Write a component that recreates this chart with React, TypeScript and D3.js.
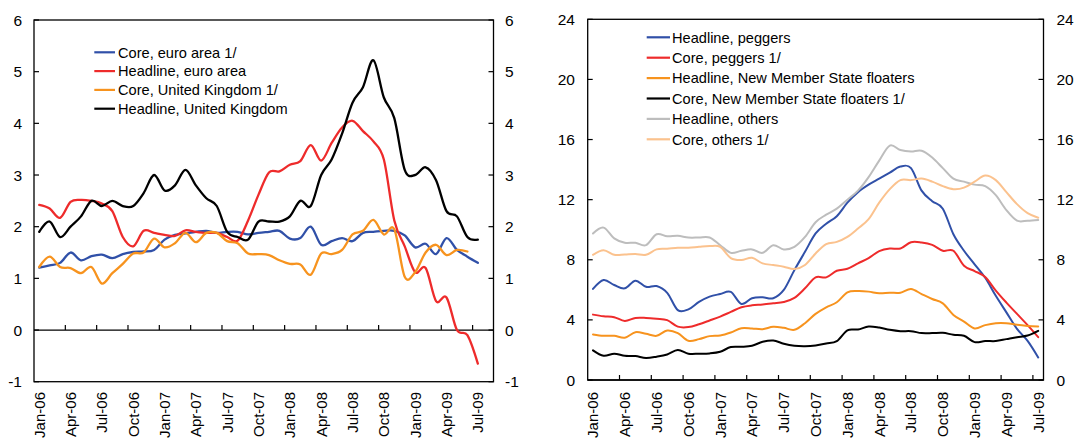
import React from "react";
import * as d3 from "d3";

// ---------- DATA ----------
const months = [
  "Jan-06","Feb-06","Mar-06","Apr-06","May-06","Jun-06","Jul-06","Aug-06","Sep-06","Oct-06","Nov-06","Dec-06",
  "Jan-07","Feb-07","Mar-07","Apr-07","May-07","Jun-07","Jul-07","Aug-07","Sep-07","Oct-07","Nov-07","Dec-07",
  "Jan-08","Feb-08","Mar-08","Apr-08","May-08","Jun-08","Jul-08","Aug-08","Sep-08","Oct-08","Nov-08","Dec-08",
  "Jan-09","Feb-09","Mar-09","Apr-09","May-09","Jun-09","Jul-09"
];
// left panel has one extra (empty) category at the end
const leftCategories = [...months, "Aug-09"];

const coreEuroArea = [1.21,1.25,1.30,1.50,1.35,1.43,1.46,1.39,1.47,1.51,1.52,1.55,1.75,1.84,1.87,1.90,1.92,1.88,1.90,1.90,1.85,1.88,1.90,1.92,1.77,1.78,2.00,1.65,1.72,1.78,1.72,1.88,1.90,1.92,1.92,1.83,1.60,1.67,1.47,1.78,1.55,1.42,1.30];
const headlineEuroArea = [2.42,2.35,2.17,2.48,2.52,2.50,2.45,2.30,1.80,1.62,1.92,1.88,1.84,1.82,1.93,1.90,1.88,1.88,1.80,1.73,2.12,2.62,3.05,3.07,3.20,3.27,3.58,3.28,3.62,3.92,4.05,3.85,3.65,3.30,2.12,1.62,1.12,1.20,0.56,0.63,0.00,-0.10,-0.65];
const coreUK = [1.22,1.42,1.22,1.20,1.10,1.22,0.90,1.10,1.28,1.48,1.50,1.77,1.60,1.68,1.88,1.70,1.88,1.88,1.72,1.68,1.48,1.47,1.45,1.35,1.28,1.27,1.07,1.48,1.47,1.55,1.85,1.92,2.13,1.85,1.95,1.03,1.12,1.50,1.65,1.45,1.55,1.52];
const headlineUK = [1.9,2.1,1.8,2.0,2.2,2.5,2.4,2.5,2.4,2.4,2.65,3.0,2.7,2.8,3.1,2.8,2.55,2.4,1.9,1.8,1.75,2.1,2.1,2.1,2.2,2.5,2.4,3.0,3.3,3.8,4.4,4.7,5.22,4.5,4.1,3.1,3.0,3.15,2.9,2.3,2.2,1.8,1.75];

const headlinePeggers = [6.06,6.65,6.32,6.10,6.61,6.20,6.25,5.80,4.65,4.70,5.20,5.55,5.72,5.86,5.06,5.44,5.50,5.44,5.99,7.31,8.53,9.75,10.40,10.90,11.80,12.50,13.00,13.40,13.80,14.20,14.10,12.60,11.90,11.40,9.70,8.60,7.70,6.80,5.60,4.50,3.40,2.60,1.50];
const corePeggers = [4.35,4.24,4.18,3.93,4.13,4.13,4.07,3.98,3.55,3.52,3.71,3.96,4.22,4.53,4.84,4.97,5.02,5.10,5.19,5.46,6.10,6.83,6.83,7.27,7.40,7.76,8.11,8.57,8.75,8.75,9.17,9.15,8.99,8.60,8.60,7.60,7.25,6.85,5.95,5.15,4.40,3.65,2.85];
const headlineNMS = [3.03,2.94,2.94,2.81,3.18,3.07,2.94,3.29,3.12,2.61,2.72,2.92,2.96,3.16,3.45,3.43,3.38,3.54,3.47,3.34,3.78,4.40,4.84,5.17,5.83,5.92,5.88,5.77,5.81,5.81,6.06,5.72,5.39,5.10,4.33,3.89,3.43,3.65,3.78,3.78,3.67,3.60,3.56];
const coreNMS = [1.97,1.61,1.75,1.61,1.59,1.46,1.55,1.70,1.99,1.75,1.75,1.77,1.88,2.19,2.21,2.28,2.54,2.63,2.41,2.28,2.25,2.30,2.43,2.59,3.31,3.36,3.56,3.49,3.34,3.25,3.25,3.12,3.12,3.14,3.01,2.94,2.52,2.59,2.59,2.72,2.85,2.96,3.27];
const headlineOthers = [9.75,10.14,9.42,9.13,9.13,8.97,9.70,9.56,9.59,9.48,9.48,9.48,8.97,8.46,8.60,8.69,8.46,8.97,8.69,8.86,9.52,10.50,11.00,11.40,12.00,12.60,13.50,14.60,15.60,15.30,15.20,15.25,14.80,14.10,13.40,13.20,13.00,12.90,12.30,11.30,10.60,10.60,10.65];
const coreOthers = [8.33,8.64,8.33,8.35,8.38,8.33,8.69,8.73,8.80,8.80,8.86,8.91,8.86,8.11,7.98,8.13,7.76,7.65,7.54,7.38,7.65,8.42,9.04,9.19,9.52,10.08,10.70,11.80,12.70,13.30,13.30,13.40,13.20,12.90,12.70,12.80,13.20,13.60,13.30,12.50,11.70,11.10,10.80];

const leftTicks = [-1, 0, 1, 2, 3, 4, 5, 6];
const rightTicks = [0, 4, 8, 12, 16, 20, 24];

const leftSeries = [
  { name: "Core, euro area 1/", values: coreEuroArea, color: "#3050A8" },
  { name: "Headline, euro area", values: headlineEuroArea, color: "#EE2B2B" },
  { name: "Core, United Kingdom 1/", values: coreUK, color: "#F7931E" },
  { name: "Headline, United Kingdom", values: headlineUK, color: "#000000" },
];
const rightSeries = [
  { name: "Headline, peggers", values: headlinePeggers, color: "#3050A8" },
  { name: "Core, peggers 1/", values: corePeggers, color: "#EE2B2B" },
  { name: "Headline, New Member State floaters", values: headlineNMS, color: "#F7931E" },
  { name: "Core, New Member State floaters 1/", values: coreNMS, color: "#000000" },
  { name: "Headline, others", values: headlineOthers, color: "#BDBDBD" },
  { name: "Core, others 1/", values: coreOthers, color: "#FBC28E" },
];

const FONT = "'Liberation Sans', Arial, sans-serif";
const TICK_FS = 15.5;
const XLAB_FS = 15;
const LEG_FS = 14.6;
const XLAB_TOP = 392;

type Series = { name: string; values: number[]; color: string };

function Panel(props: {
  cats: string[];
  series: Series[];
  x0: number; x1: number; yTop: number; yBot: number;
  domain: [number, number];
  ticks: number[];
  axisAt: number;
  curve: any;
  lw: number;
  leftLabelX: number; rightLabelX: number;
  legend: { lineX0: number; lineX1: number; textX: number; y0: number; dy: number };
}) {
  const p = props;
  const x = d3.scaleBand<string>().domain(p.cats).range([p.x0, p.x1]).paddingInner(0).paddingOuter(0);
  const y = d3.scaleLinear().domain(p.domain).range([p.yBot, p.yTop]);
  const bw = x.bandwidth();
  const line = (vals: number[]) =>
    d3.line<number>()
      .x((_, i) => (x(p.cats[i]) as number) + bw / 2)
      .y((d) => y(d))
      .curve(p.curve)(vals) || "";
  const tickIdx = d3.range(3, p.cats.length, 3);
  const labelIdx = d3.range(0, 43, 3);
  const axisY = y(p.axisAt);
  return (
    <g>
      {/* y ticks */}
      {p.ticks.map((t) => (
        <g key={"t" + t}>
          <line x1={p.x0} x2={p.x0 + 5} y1={y(t)} y2={y(t)} stroke="#000" strokeWidth={1.2} />
          <line x1={p.x1 - 5} x2={p.x1} y1={y(t)} y2={y(t)} stroke="#000" strokeWidth={1.2} />
          <text x={p.leftLabelX} y={y(t)} dy="0.36em" textAnchor="end" fontFamily={FONT} fontSize={TICK_FS}>{t}</text>
          <text x={p.rightLabelX} y={y(t)} dy="0.36em" textAnchor="start" fontFamily={FONT} fontSize={TICK_FS}>{t}</text>
        </g>
      ))}
      {/* x axis line with inside ticks */}
      <line x1={p.x0} x2={p.x1} y1={axisY} y2={axisY} stroke="#000" strokeWidth={1.3} />
      {tickIdx.map((b) => {
        const xx = (x(p.cats[b]) as number);
        return <line key={"xt" + b} x1={xx} x2={xx} y1={axisY} y2={axisY - 5} stroke="#000" strokeWidth={1.2} />;
      })}
      {/* series */}
      {p.series.map((s) => (
        <path key={s.name} d={line(s.values)} fill="none" stroke={s.color} strokeWidth={p.lw} strokeLinejoin="round" strokeLinecap="round" />
      ))}
      {/* frame */}
      <rect x={p.x0} y={p.yTop} width={p.x1 - p.x0} height={p.yBot - p.yTop} fill="none" stroke="#000" strokeWidth={1.3} />
      {/* x labels */}
      {labelIdx.map((i) => {
        const cx = (x(p.cats[i]) as number) + bw / 2;
        return (
          <text key={"xl" + i} transform={`translate(${cx},${XLAB_TOP}) rotate(-90)`} dy="0.36em" textAnchor="end" fontFamily={FONT} fontSize={XLAB_FS}>
            {p.cats[i]}
          </text>
        );
      })}
      {/* legend */}
      {p.series.map((s, k) => {
        const ly = p.legend.y0 + k * p.legend.dy;
        return (
          <g key={"lg" + k}>
            <line x1={p.legend.lineX0} x2={p.legend.lineX1} y1={ly} y2={ly} stroke={s.color} strokeWidth={2.2} />
            <text x={p.legend.textX} y={ly} dy="0.36em" fontFamily={FONT} fontSize={LEG_FS}>{s.name}</text>
          </g>
        );
      })}
    </g>
  );
}

export default function App() {
  return (
    <svg width={1074} height={439} style={{ position: "absolute", left: 0, top: 0, background: "#fff" }}>
      <rect x={0} y={0} width={1074} height={439} fill="#fff" />
      <Panel
        cats={leftCategories}
        series={leftSeries}
        x0={34} x1={493.5} yTop={20} yBot={381.7}
        domain={[-1, 6]} ticks={leftTicks} axisAt={0}
        curve={d3.curveCardinal.tension(0)} lw={2.3}
        leftLabelX={22} rightLabelX={505}
        legend={{ lineX0: 94.3, lineX1: 115, textX: 118, y0: 52.3, dy: 18.8 }}
      />
      <Panel
        cats={months}
        series={rightSeries}
        x0={587.7} x1={1043.5} yTop={19.3} yBot={380}
        domain={[0, 24]} ticks={rightTicks} axisAt={0}
        curve={d3.curveCardinal.tension(0)} lw={2}
        leftLabelX={575} rightLabelX={1056.5}
        legend={{ lineX0: 646.7, lineX1: 670, textX: 672, y0: 37.3, dy: 20.4 }}
      />
    </svg>
  );
}
